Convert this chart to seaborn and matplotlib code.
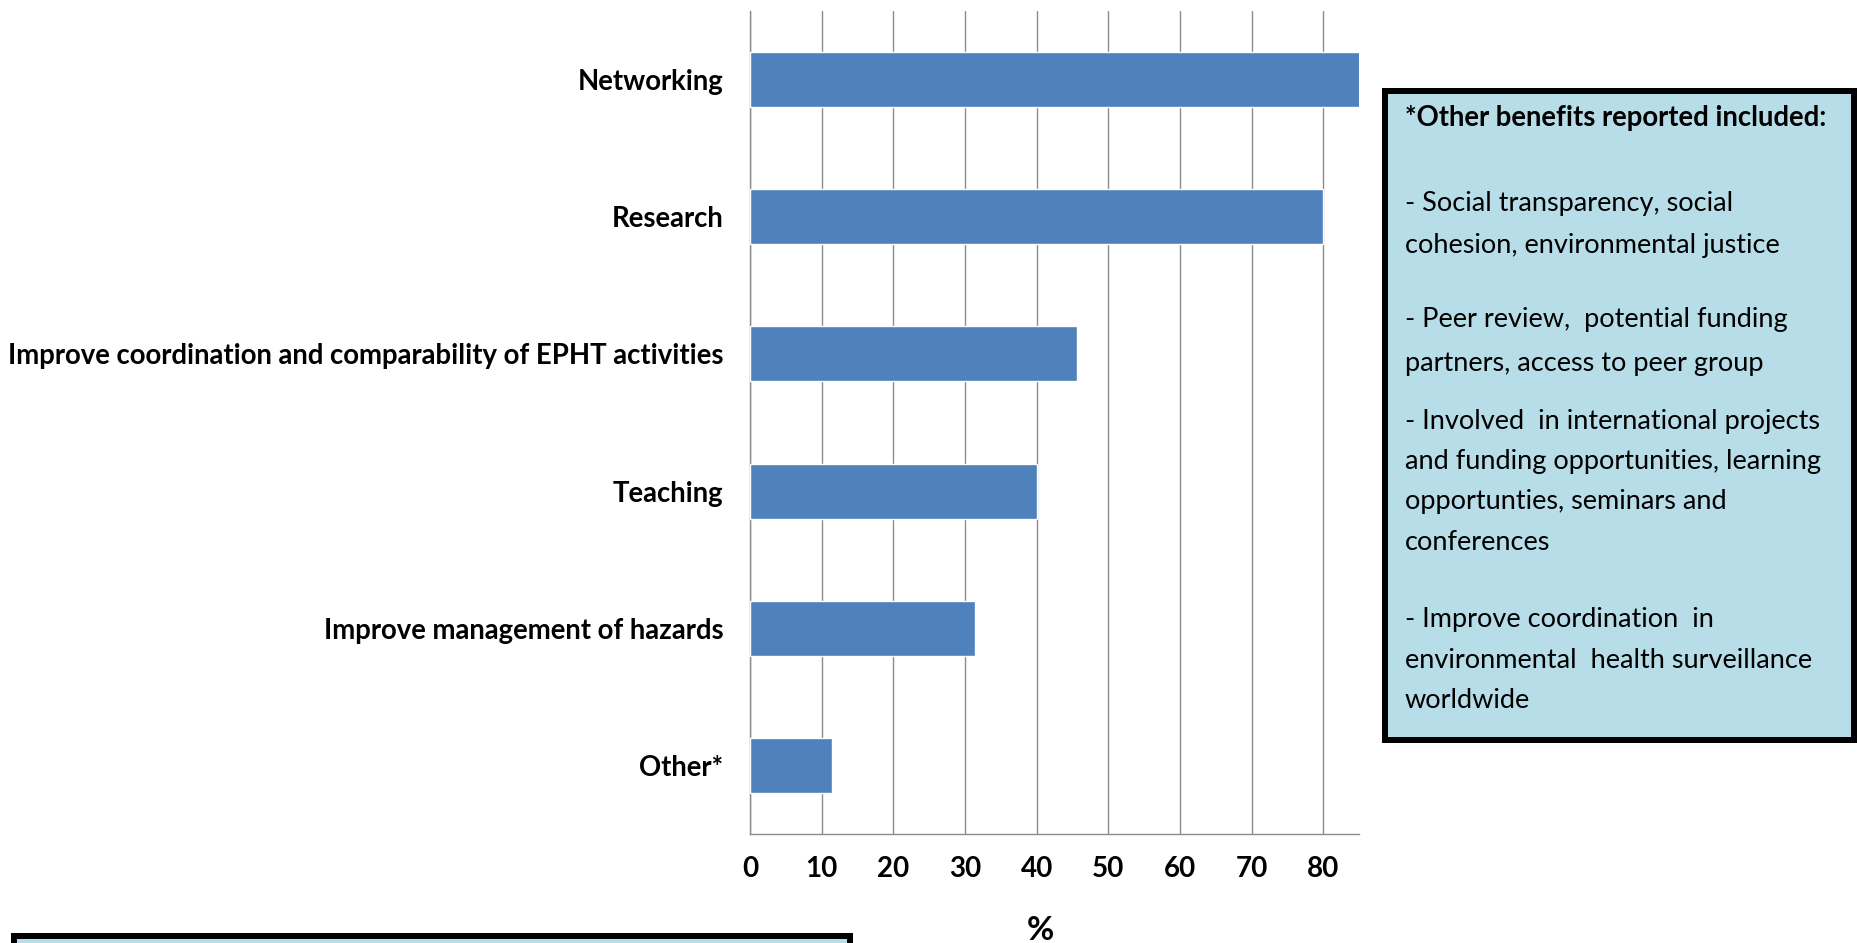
"""
Benefits of network membership - horizontal bar chart with notes box
"""

import matplotlib
matplotlib.use("Agg")
import numpy as np
import pandas as pd
import matplotlib.pyplot as plt
import matplotlib.patches as patches
from matplotlib import font_manager
import seaborn as sns

# Data
categories = [
    "Networking",
    "Research",
    "Improve coordination and comparability of EPHT activities",
    "Teaching",
    "Improve management of hazards",
    "Other*",
]
percent = [85.7, 80.0, 45.7, 40.0, 31.4, 11.4]
x_ticks = [0, 10, 20, 30, 40, 50, 60, 70, 80]

note_title = "*Other benefits reported included:"
note_lines = [
    "- Social transparency, social",
    "cohesion, environmental justice",
    "- Peer review,  potential funding",
    "partners, access to peer group",
    "- Involved  in international projects",
    "and funding opportunities, learning",
    "opportunties, seminars and",
    "conferences",
    "- Improve coordination  in",
    "environmental  health surveillance",
    "worldwide",
]

W, H = 1858, 943
BAR_BLUE = "#4f81bd"
BOX_BLUE = "#b7dde8"
GRID_GREY = "#8c8c8c"

sns.set_style("white")

available = {f.name for f in font_manager.fontManager.ttflist}
main_font = "Lato" if "Lato" in available else "DejaVu Sans"
plt.rcParams["font.family"] = [main_font, "DejaVu Sans"]
plt.rcParams["text.color"] = "black"
plt.rcParams["xtick.color"] = "black"
plt.rcParams["ytick.color"] = "black"

df = pd.DataFrame({"benefit": categories, "pct": percent})

fig = plt.figure(figsize=(W / 100, H / 100), dpi=100)
ax = fig.add_axes([750 / W, 1 - 834 / H, 609 / W, 823 / H])

sns.barplot(data=df, x="pct", y="benefit", orient="h", color=BAR_BLUE,
            width=0.4, saturation=1, ax=ax, zorder=3)

ax.set_xlim(0, 85)
ax.set_ylim(len(categories) - 0.5, -0.5)
ax.set_xticks(x_ticks)
ax.set_xticklabels([str(t) for t in x_ticks], fontsize=20, fontweight="bold")
ax.set_yticks(range(len(categories)))
ax.set_yticklabels(categories, fontsize=19.8, fontweight="bold")
ax.set_yticks(np.arange(-0.5, len(categories), 1.0), minor=True)
ax.tick_params(axis="y", which="major", length=0, pad=19)
ax.tick_params(axis="y", which="minor", length=6, width=1, color=GRID_GREY, direction="out")
ax.tick_params(axis="x", length=6, width=1, color=GRID_GREY, direction="out", pad=10)
ax.set_xlabel("")
ax.set_ylabel("")

ax.grid(axis="x", color=GRID_GREY, linewidth=1)
ax.set_axisbelow(True)
for side in ["top", "right"]:
    ax.spines[side].set_visible(False)
for side in ["left", "bottom"]:
    ax.spines[side].set_color(GRID_GREY)
    ax.spines[side].set_linewidth(1)

fig.text(1040 / W, 1 - 930 / H, "%", ha="center", va="center",
         fontsize=24, fontweight="bold")

# notes box on the right
lw_px = 6
lw_pt = lw_px * 72 / 100
x0, x1, y0, y1 = 1382 + 3, 1857 - 3, 88 + 3, 743 - 3
box = patches.Rectangle((x0 / W, 1 - y1 / H), (x1 - x0) / W, (y1 - y0) / H,
                        transform=fig.transFigure, facecolor=BOX_BLUE,
                        edgecolor="black", linewidth=lw_pt, zorder=1)
fig.add_artist(box)

tx = 1405 / W
fig.text(tx, 1 - 118 / H, note_title, ha="left", va="center",
         fontsize=19.8, fontweight="bold")
line_y = [204, 245, 320, 363, 422, 462, 502, 542, 620, 661, 701]
for text, yy in zip(note_lines, line_y):
    fig.text(tx, 1 - yy / H, text, ha="left", va="center", fontsize=19.5)

# partial box at bottom-left (cut off by the figure edge)
bx0, bx1, by0 = 11 + 3, 853 - 3, 933 + 3
box2 = patches.Rectangle((bx0 / W, -0.05), (bx1 - bx0) / W, 1 - by0 / H + 0.05,
                         transform=fig.transFigure, facecolor=BOX_BLUE,
                         edgecolor="black", linewidth=lw_pt, zorder=1)
fig.add_artist(box2)

fig.savefig("out.png", dpi=100)
print("saved out.png")
